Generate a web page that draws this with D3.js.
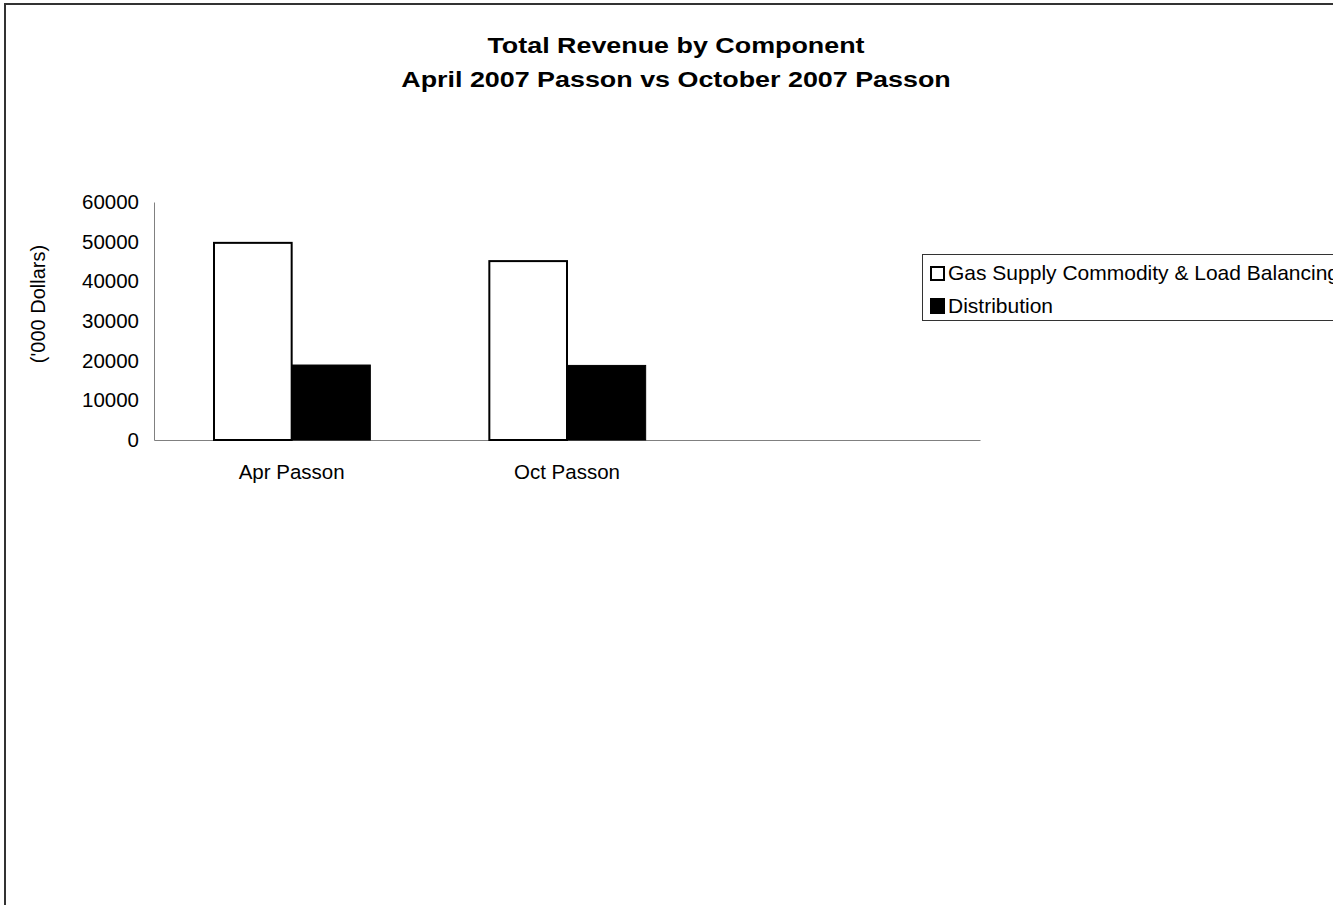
<!DOCTYPE html>
<html><head><meta charset="utf-8">
<script src="https://cdn.jsdelivr.net/npm/d3@7"></script>
<style>html,body{margin:0;padding:0;background:#fff;overflow:hidden}text{font-family:"Liberation Sans",Arial,sans-serif}</style>
</head><body>
<svg id="c" width="1333" height="905"></svg>
<script>
const categories = ["Apr Passon", "Oct Passon", ""];
const seriesNames = ["Gas Supply Commodity & Load Balancing", "Distribution"];
const gasSupply = [49700, 45100, null];
const distribution = [18900, 18800, null];
const yTicks = [0, 10000, 20000, 30000, 40000, 50000, 60000];
const titleLines = ["Total Revenue by Component", "April 2007 Passon vs October 2007 Passon"];
const yLabel = "('000 Dollars)";

const svg = d3.select("#c");
svg.append("rect").attr("x",5).attr("y",4).attr("width",2000).attr("height",2000)
  .attr("fill","#fff").attr("stroke","#333").attr("stroke-width",2);

const L=154, R=980, T=202, B=440;
const x = d3.scaleBand().domain(d3.range(categories.length)).range([L,R]);
const y = d3.scaleLinear().domain([0,60000]).range([B,T]);
const inner = d3.scaleBand().domain([0,1]).range([0, x.bandwidth()]).paddingInner(0).paddingOuter(0.75);

// titles (slightly widened glyphs like the original)
svg.selectAll("text.title").data(titleLines).enter().append("text")
  .attr("transform",(d,i)=>`translate(676,${53+i*34}) scale(1.25,1)`)
  .attr("text-anchor","middle")
  .attr("font-size","21.5px").attr("font-weight","bold").text(d=>d);

// y axis
const ya = svg.append("g").attr("transform",`translate(${L},0)`)
  .call(d3.axisLeft(y).tickValues(yTicks).tickSize(0).tickPadding(15).tickFormat(d3.format("d")));
ya.select(".domain").attr("stroke","#808080").attr("stroke-width",1);
ya.selectAll("text").attr("font-size","20.5px").attr("fill","#000").attr("font-family","Liberation Sans, Arial, sans-serif");

// x axis
const xa = svg.append("g").attr("transform",`translate(0,${B})`)
  .call(d3.axisBottom(x).tickSize(0).tickPadding(24).tickFormat(i=>categories[i]));
xa.select(".domain").attr("stroke","#808080").attr("stroke-width",1);
xa.selectAll("text").attr("font-size","20.5px").attr("fill","#000").attr("font-family","Liberation Sans, Arial, sans-serif");

svg.append("text").attr("transform",`translate(45,304) rotate(-90)`)
  .attr("text-anchor","middle").attr("font-size","20px").text(yLabel);

// bars
const series = [gasSupply, distribution];
const fills = ["#fff","#000"];
series.forEach((vals,s)=>{
  svg.append("g").selectAll("rect").data(vals.map((v,i)=>({v,i})).filter(d=>d.v!=null)).enter()
    .append("rect")
    .attr("x",d=>x(d.i)+inner(s)+(s===0?1:0))
    .attr("y",d=>y(d.v))
    .attr("width",inner.bandwidth()-(s===0?1:0))
    .attr("height",d=>B-y(d.v))
    .attr("fill",fills[s]).attr("stroke","#000").attr("stroke-width",s===0?2:1);
});

// legend
const lg = svg.append("g");
lg.append("rect").attr("x",922.5).attr("y",254.5).attr("width",500).attr("height",66)
  .attr("fill","#fff").attr("stroke","#333").attr("stroke-width",1);
seriesNames.forEach((n,i)=>{
  const base = 280 + i*33;
  lg.append("rect").attr("x",i===0?931:930).attr("y",i===0?base-13:base-15)
    .attr("width",i===0?13:15).attr("height",i===0?13:16)
    .attr("fill",fills[i]).attr("stroke","#000").attr("stroke-width",i===0?2:0);
  lg.append("text").attr("x",948).attr("y",base).attr("font-size","21px").text(n);
});
</script>
</body></html>
